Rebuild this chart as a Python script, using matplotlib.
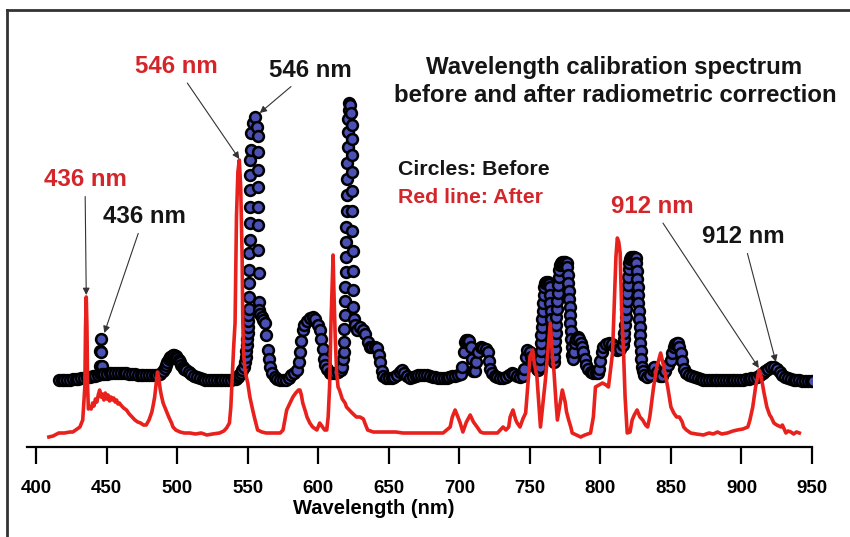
import matplotlib.pyplot as plt
from matplotlib.lines import Line2D

plt.rcParams['font.family'] = ['Liberation Sans', 'DejaVu Sans']

# (wavelength nm, relative intensity)
after_points = [
    (409, 10), (412, 11), (416, 14), (420, 14), (424, 15), (426, 15), (428, 17), (430, 19), (431, 20), (433, 27),
    (434.5, 60), (435, 120), (435.5, 150), (436, 120), (436.5, 60), (437, 38), (438, 40), (439, 38), (440, 44),
    (441, 41), (442, 48), (443, 45), (444, 52), (445, 57), (446, 50), (447, 53), (448, 47), (449, 54), (450, 48),
    (451, 52), (452, 46), (453, 50), (454, 47), (455, 49), (456, 45), (457, 47), (458, 43), (459, 44), (460, 42),
    (462, 39), (464, 37), (466, 33), (468, 30), (470, 27), (472, 25), (474, 24), (476, 22), (478, 22), (480, 27),
    (482, 35), (483, 42), (484, 50), (485, 63), (486, 75), (487, 68), (488, 57), (489, 50), (490, 44), (492, 37),
    (494, 30), (496, 24), (497, 20), (499, 17), (502, 15), (505, 14), (509, 14), (513, 13), (517, 14), (521, 12),
    (525, 13), (530, 14), (533, 16), (535, 19), (537, 24), (538, 40), (539, 70), (540, 100), (541, 124), (542, 230),
    (543, 275), (544, 287), (545, 260), (546, 190), (546.5, 124), (547, 95), (548, 78), (549, 70), (550, 64),
    (551.5, 50), (553.5, 37), (555, 28), (557, 17), (560, 15), (563, 14), (568, 14), (573, 14), (575, 17),
    (577.6, 37), (580, 44), (582, 50), (584, 54), (586, 57), (587, 57), (588, 52), (589, 44), (591, 35), (592, 30),
    (594, 24), (596, 20), (599, 17), (601, 24), (603, 20), (604.5, 17), (606, 17), (607, 30), (608, 60), (609, 124),
    (610, 170), (610.5, 192), (611, 160), (612, 110), (613, 75), (614, 60), (615, 57), (617, 48), (619, 44),
    (620, 40), (622, 37), (624, 34), (627, 30), (629.5, 30), (632, 28), (633, 24), (635, 17), (637, 16), (639, 15),
    (645, 15), (651, 15), (655, 15), (660, 14), (665, 14), (670, 14), (675, 14), (680, 14), (685, 14), (688.5, 14),
    (691, 17), (693.5, 20), (695, 30), (697, 37), (699, 30), (700.6, 24), (702.5, 15), (705, 25), (707.7, 32),
    (710, 25), (712.6, 20), (715, 15), (717, 14), (720, 14), (724, 14), (727, 14), (729, 17), (731, 20), (733, 17),
    (735, 20), (736, 30), (738, 37), (740, 27), (741, 24), (743, 20), (745, 28), (747, 34), (749, 70), (750, 90),
    (752, 97), (753, 85), (755, 70), (756, 50), (757.5, 20), (759, 40), (761, 67), (763, 100), (764.5, 124),
    (766, 90), (767, 77), (768.5, 45), (769.5, 27), (771, 40), (773, 57), (775, 45), (776, 35), (777.5, 27),
    (779, 20), (780, 14), (783, 12), (786, 10), (789, 12), (793, 14), (795, 30), (796.5, 60), (799, 62),
    (801.5, 64), (804, 62), (805.7, 60), (807, 75), (808.6, 94), (810, 150), (811, 190), (812, 209), (813, 205),
    (814, 194), (815, 140), (816.4, 94), (817.5, 50), (819, 14), (821, 15), (822.5, 27), (824, 32), (826, 37),
    (828, 30), (830, 27), (832, 22), (833.5, 20), (835, 30), (837.7, 60), (840, 80), (842.7, 94), (845, 80),
    (847.7, 60), (850, 40), (852, 34), (854, 30), (856, 30), (858, 25), (859, 20), (861, 17), (864, 14), (868, 13),
    (873, 12), (877, 14), (880, 13), (883, 15), (886, 13), (890, 14), (894, 16), (897, 17), (901, 18), (904.5, 20),
    (906, 27), (908, 40), (910, 60), (912, 74), (912.5, 77), (914, 70), (916, 54), (918, 40), (920, 32), (921, 30),
    (923, 24), (925, 22), (928, 20), (929, 22), (931.5, 14), (933, 16), (935, 15), (937, 13), (939, 15), (941, 14),
]

before_points = [
    (416, 67), (418, 67), (420, 67), (422, 67), (424, 67), (426, 68), (428, 68), (430, 68), (432, 69), (434, 69),
    (436, 70), (438, 70), (440, 71), (442, 71), (444, 72),
    (445, 74), (445.3, 81), (445.6, 96), (445.9, 108), (446.2, 95), (446.5, 81), (447, 73),
    (448, 73), (450, 73), (452, 74), (454, 74), (456, 74), (458, 74), (460, 74), (462, 74), (464, 74), (466, 73),
    (468, 73), (470, 73), (472, 72), (474, 72), (476, 72), (478, 72), (480, 72), (482, 72), (484, 72), (486, 72),
    (488, 73), (490, 76), (491, 79), (492, 82), (493, 85), (494, 88), (495, 90), (496, 91), (497, 92), (498, 92),
    (499, 91), (500, 89), (501, 87), (502, 85), (503, 82), (504, 80), (505, 78), (506, 77), (508, 75), (510, 73),
    (512, 71), (514, 70), (516, 69), (518, 68), (520, 67), (522, 67), (524, 67), (526, 67), (528, 67), (530, 67),
    (532, 67), (534, 67), (536, 67), (538, 67), (540, 68), (542, 68),
    (543, 70), (544, 72), (545, 74), (546, 77), (547, 80), (548, 85), (548.5, 90), (549, 96), (549.3, 102),
    (549.6, 108), (549.9, 114), (550.1, 120), (550.3, 126), (550.5, 132), (550.7, 138), (550.9, 150), (551, 164),
    (551.1, 177), (551.2, 194), (551.3, 207), (551.4, 224), (551.5, 240), (551.6, 257), (551.7, 272), (551.8, 287),
    (552, 297), (552.5, 314), (553.5, 324), (555, 330), (556.5, 320), (557, 311), (557, 295), (557.2, 277),
    (557.3, 260), (557.4, 240), (557.5, 222), (557.6, 197), (557.7, 174), (557.8, 145),
    (558, 137), (559, 133), (560, 130), (561, 127), (562, 124), (563, 112), (564, 97), (565, 88), (566, 80),
    (567, 74), (569, 70), (571, 68), (573, 67), (575, 67), (577, 67), (579, 69), (581, 72), (583, 74), (585, 77),
    (586, 85), (587, 95), (588, 106), (589, 117), (590, 122), (592, 126), (594, 129), (596, 130), (598, 128),
    (600, 122), (601, 117), (602, 108), (603, 98), (604, 88), (605, 82), (606, 78), (608, 74), (610, 74), (612, 74),
    (614, 75), (616, 77), (617, 80),
    (617.5, 88), (618, 95), (618.3, 105), (618.5, 118), (618.7, 132), (618.9, 146), (619.1, 160), (619.3, 175),
    (619.5, 190), (619.7, 205), (619.9, 220), (620.1, 236), (620.3, 252), (620.5, 268), (620.7, 284), (620.9, 300),
    (621.1, 315), (621.3, 328), (621.5, 337), (621.8, 344), (622.5, 342), (623.2, 334), (623.6, 322), (623.8, 308),
    (624, 292), (624, 275), (624.1, 256), (624.1, 236), (624.2, 216), (624.3, 196), (624.4, 176), (624.5, 157),
    (624.7, 140), (625, 128),
    (626, 122), (627.4, 117), (629.5, 120), (631.6, 117), (633, 113), (635, 105), (636.6, 100), (638, 100),
    (640, 100), (641.6, 99), (643, 92), (644, 85), (645, 76), (646, 71), (648, 69), (650, 69), (652, 69), (654, 70),
    (656, 72), (658, 75), (659.5, 77), (661, 74), (663, 71), (665, 69), (667, 70), (669, 71), (671, 72), (673, 72),
    (675, 72), (677, 72), (679, 71), (681, 70), (683, 70), (685, 69), (687, 69), (689, 69), (691, 69), (693, 70),
    (695, 71), (697, 71), (699, 72), (701, 73),
    (702, 80), (703, 95), (704, 105), (705, 107), (706, 107), (707, 106), (708, 100), (709, 88), (710, 76),
    (711, 76), (712, 85), (713, 95), (715, 100), (717, 99), (719, 98), (720, 95), (721, 86), (722, 78), (723, 74),
    (725, 71), (727, 70), (729, 69), (731, 69), (733, 70), (735, 72), (737, 74), (739, 73), (741, 71), (743, 70),
    (745, 71), (746, 78), (747, 90), (748, 97), (750, 95), (751, 90), (752, 88), (753, 86), (754, 82), (755, 78),
    (756, 77),
    (757, 80), (757.3, 88), (757.6, 96), (757.9, 104), (758.2, 112), (758.5, 120), (758.8, 128), (759.1, 136),
    (759.4, 144), (759.7, 152), (760, 160), (760.5, 164), (761.5, 165), (762.5, 165), (763.5, 163), (764, 160),
    (764.3, 152), (764.6, 144), (764.9, 136), (765.2, 128), (765.5, 120), (765.8, 112), (766.1, 104), (766.4, 96),
    (766.7, 89), (767, 85),
    (767.3, 90), (767.6, 98), (767.9, 106), (768.2, 114), (768.5, 122), (768.8, 130), (769.1, 138), (769.4, 146),
    (769.7, 154), (770, 162), (770.3, 170), (770.6, 177), (771.2, 182), (772, 184), (773, 185), (774, 185),
    (775, 185), (776, 184), (776.6, 180), (776.9, 172), (777.2, 164), (777.5, 156), (777.8, 148), (778.1, 140),
    (778.4, 132), (778.7, 124), (779, 116), (779.3, 108), (779.6, 100), (779.9, 92), (780.3, 88),
    (781, 95), (782, 104), (783, 108), (784, 110), (785, 108), (786, 104), (787, 100), (788, 95), (789, 88),
    (790, 82), (791, 78), (793, 75), (795, 74), (797, 74), (798, 74), (799, 78), (800, 86), (801, 95), (802, 100),
    (804, 103), (806, 104), (808, 103), (810, 100), (812, 97), (814, 98),
    (816, 102), (816.5, 108), (817, 114), (817.4, 122), (817.8, 130), (818.2, 138), (818.6, 146), (819, 154),
    (819.4, 162), (819.8, 170), (820.2, 178), (820.6, 184), (821.2, 188), (822, 190), (823, 190), (824, 190),
    (825, 189), (825.4, 184), (825.7, 176), (826, 168), (826.3, 160), (826.6, 152), (826.9, 144), (827.2, 136),
    (827.5, 128), (827.8, 120), (828.1, 112), (828.4, 104), (828.7, 96), (829, 88), (829.5, 80), (830, 76),
    (831, 72), (833, 70), (835, 72), (837, 77), (838, 80), (840, 75), (842, 71), (844, 71), (846, 76), (848, 82),
    (850, 87), (851, 94), (852, 100), (853, 103), (854, 104), (855, 104), (856, 100), (857, 94), (858, 86),
    (859, 78), (861, 74), (863, 72), (865, 71), (867, 70), (869, 69), (871, 68), (873, 67), (875, 67), (877, 67),
    (879, 67), (881, 67), (883, 67), (885, 67), (887, 67), (889, 67), (891, 67), (893, 67), (895, 67), (897, 67),
    (899, 67), (901, 67), (903, 68), (905, 68), (907, 69), (909, 69), (911, 70), (913, 72), (915, 74), (917, 76),
    (919, 78), (921, 80), (923, 80), (925, 78), (927, 75), (929, 72), (931, 70), (933, 69), (935, 68), (937, 67),
    (939, 67), (941, 67), (943, 66), (945, 66), (947, 66), (949, 66), (951, 66),
]

after_wl = [p[0] for p in after_points]
after_int = [p[1] for p in after_points]
before_wl = [p[0] for p in before_points]
before_int = [p[1] for p in before_points]

x_ticks = [400, 450, 500, 550, 600, 650, 700, 750, 800, 850, 900, 950]

# labelled lines: (text, colour, text position in px, arrow target (nm, intensity))
labels = [
    ('546 nm', 'red', (176, 73), (544, 288)),
    ('546 nm', 'black', (310, 77), (558.5, 334)),
    ('436 nm', 'red', (85, 186), (435.5, 152)),
    ('436 nm', 'black', (144, 223), (448.3, 114)),
    ('912 nm', 'red', (652, 213), (912.3, 79)),
    ('912 nm', 'black', (743, 243), (924.4, 85)),
]

RED_TXT = '#d4262a'
RED_LINE = '#e8211d'
W, H = 850, 537

fig = plt.figure(figsize=(8.5, 5.37), dpi=100)
ax = fig.add_axes([27 / W, 90 / H, 785 / W, 387 / H])

ax.plot(before_wl, before_int, 'o', ms=7.8, mfc='#4a50b4', mec='black', mew=1.8, zorder=2)
ax.plot(after_wl, after_int, color=RED_LINE, lw=2.6, zorder=3)

ax.set_xlim(393.5, 950)
ax.set_ylim(0, 387)
for s in ['left', 'right', 'top']:
    ax.spines[s].set_visible(False)
ax.spines['bottom'].set_linewidth(1.6)
ax.set_yticks([])
ax.set_xticks(x_ticks)
ax.tick_params(axis='x', direction='out', length=12, width=1.6, pad=12, labelsize=13.5)
for lbl in ax.get_xticklabels():
    lbl.set_fontweight('bold')
ax.set_xlabel('Wavelength (nm)', fontsize=14.5, fontweight='bold')
ax.xaxis.set_label_coords((374 - 27) / 785, -(499 - 447) / 387)
ax.xaxis.label.set_va('top')

for txt, col, (px, py), target in labels:
    ax.annotate(txt, xy=target, xytext=(px / W, 1 - py / H), textcoords='figure fraction',
                ha='center', va='baseline', fontsize=17.3, fontweight='bold',
                color=RED_TXT if col == 'red' else '#151515',
                arrowprops=dict(arrowstyle='-|>', color='#333333', lw=0.8,
                                mutation_scale=10, shrinkA=2, shrinkB=0))

fig.text(614 / W, 1 - 74 / H, 'Wavelength calibration spectrum', ha='center', va='baseline',
         fontsize=17.3, fontweight='bold', color='#151515')
fig.text(615 / W, 1 - 102 / H, 'before and after radiometric correction', ha='center', va='baseline',
         fontsize=17.3, fontweight='bold', color='#151515')
fig.text(398 / W, 1 - 175 / H, 'Circles: Before', ha='left', va='baseline',
         fontsize=15.3, fontweight='bold', color='#151515')
fig.text(398 / W, 1 - 203 / H, 'Red line: After', ha='left', va='baseline',
         fontsize=15.3, fontweight='bold', color=RED_TXT)

# border of the original figure (top and left edges)
fig.add_artist(Line2D([7 / W, 1], [1 - 9.5 / H, 1 - 9.5 / H], transform=fig.transFigure,
                      color='#333333', lw=2))
fig.add_artist(Line2D([7 / W, 7 / W], [0, 1 - 9.5 / H], transform=fig.transFigure,
                      color='#333333', lw=2))

fig.savefig('out.png', dpi=100, facecolor='white')
